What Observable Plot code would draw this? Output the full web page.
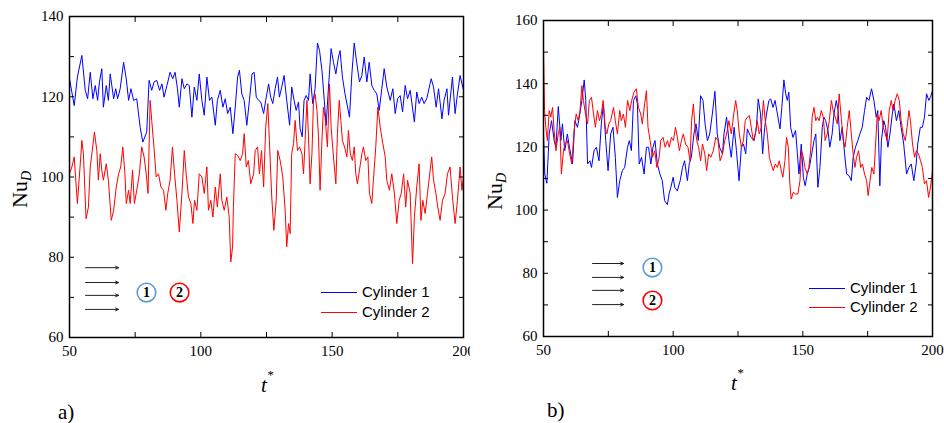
<!DOCTYPE html>
<html><head><meta charset="utf-8">
<script src="https://cdn.jsdelivr.net/npm/d3@7"></script>
<script src="https://cdn.jsdelivr.net/npm/@observablehq/plot@0.6"></script>
<style>
body{margin:0;background:#fff;}
#wrap{position:relative;width:944px;height:423px;overflow:hidden;background:#fff;}
.panel{position:absolute;top:0;}
.panel text{font-family:"Liberation Serif","Times New Roman",serif !important;}
.leg{position:absolute;font-family:"Liberation Sans",Arial,sans-serif;font-size:15px;line-height:18px;height:18px;white-space:nowrap;color:#000;}
.leg span.ln{display:inline-block;width:36px;height:0;border-top:1.2px solid;vertical-align:middle;margin-right:5px;position:relative;top:-1px;}
#over{position:absolute;left:0;top:0;pointer-events:none;}
</style></head>
<body><div id="wrap"></div>
<script>
// ---- data: panel a) (t*, Nu_D) ----
const cyl1A = [[50.0,124.5],[51.8,117.8],[53.0,124.9],[54.7,130.3],[56.0,121.6],[56.9,119.5],[57.9,126.1],[58.9,119.5],[59.8,122.8],[60.7,119.1],[61.4,123.7],[62.3,127.0],[62.9,117.4],[64.0,122.8],[64.8,119.1],[65.5,125.7],[66.8,119.5],[67.6,122.0],[68.3,119.5],[69.3,122.0],[70.6,128.6],[71.6,124.5],[72.5,119.1],[73.4,122.0],[74.4,119.1],[75.6,119.5],[76.9,112.4],[77.9,108.7],[79.4,111.2],[80.3,124.1],[81.3,121.6],[82.2,123.7],[83.2,124.1],[84.3,121.6],[85.2,123.2],[86.0,119.9],[87.1,122.8],[88.3,126.1],[89.3,124.5],[90.2,126.1],[91.1,122.0],[91.8,117.4],[92.8,124.5],[93.7,122.0],[94.7,123.2],[95.6,122.8],[96.6,114.9],[97.5,122.4],[98.5,119.1],[99.4,125.7],[100.4,119.1],[101.3,115.4],[102.3,124.9],[103.3,119.1],[104.2,119.9],[105.5,112.9],[106.3,119.1],[107.4,121.6],[108.4,117.4],[109.3,119.5],[110.2,115.8],[111.2,117.4],[112.2,110.8],[113.1,117.4],[114.0,124.9],[114.7,126.6],[115.6,120.7],[116.5,119.1],[117.5,112.9],[118.5,119.1],[119.5,125.7],[120.3,126.1],[121.1,119.9],[122.0,119.1],[122.8,118.7],[123.9,115.8],[124.7,119.1],[125.8,123.2],[126.6,119.9],[127.4,118.3],[128.3,122.0],[129.2,124.9],[129.9,119.9],[130.8,122.4],[131.7,125.3],[132.7,119.1],[133.8,112.9],[134.6,122.4],[135.5,119.1],[136.3,116.6],[137.2,118.7],[137.8,112.0],[138.6,110.0],[139.3,119.1],[140.1,120.3],[141.0,119.1],[141.6,125.7],[142.6,118.3],[143.5,122.0],[144.4,133.4],[145.2,131.5],[146.1,126.6],[147.0,119.1],[147.7,112.9],[148.6,122.4],[149.6,132.0],[150.5,128.6],[151.4,125.7],[152.4,129.9],[153.0,131.5],[153.9,124.9],[154.9,120.7],[156.6,114.9],[157.5,125.7],[158.4,133.4],[159.4,128.2],[160.4,123.7],[161.3,125.3],[162.2,129.9],[163.2,123.7],[164.1,128.6],[165.1,122.8],[166.0,121.6],[167.0,120.7],[167.9,116.6],[168.9,122.0],[169.8,127.0],[170.8,122.4],[172.1,119.1],[173.1,122.0],[174.0,115.8],[174.9,119.5],[175.9,120.3],[176.8,116.2],[177.8,122.8],[178.7,119.5],[179.7,121.6],[181.3,113.7],[182.2,121.2],[183.1,118.3],[184.1,119.9],[185.0,118.3],[186.0,119.5],[187.7,124.5],[188.6,122.4],[189.6,117.4],[190.5,122.0],[191.8,114.5],[192.6,119.1],[193.7,122.0],[194.3,115.4],[195.8,124.9],[196.8,115.8],[197.7,120.7],[198.7,125.3],[200.0,121.6]];
const cyl2A = [[50.0,100.8],[50.9,102.5],[51.8,105.0],[53.0,93.4],[54.1,103.3],[54.7,109.1],[55.3,105.8],[56.3,89.6],[57.2,92.5],[57.9,102.5],[58.6,106.2],[59.5,111.2],[60.4,106.6],[61.0,99.2],[61.7,105.8],[62.3,101.7],[62.9,99.2],[64.0,103.3],[64.8,99.2],[65.9,89.2],[66.8,91.7],[67.8,97.5],[68.7,100.8],[69.5,102.5],[70.3,107.5],[71.1,100.8],[71.6,93.4],[72.5,96.7],[73.1,93.4],[74.0,101.7],[74.7,93.4],[75.6,96.7],[76.6,100.8],[77.5,107.5],[78.4,105.0],[79.2,100.8],[79.9,95.9],[80.7,119.1],[81.3,114.1],[82.2,107.1],[83.0,100.0],[83.9,100.8],[84.8,97.5],[85.8,96.7],[86.7,91.7],[87.4,95.9],[88.3,99.2],[89.2,107.5],[90.0,100.8],[90.9,94.2],[91.8,86.3],[92.8,95.9],[93.7,106.6],[94.4,100.8],[95.3,95.0],[96.2,93.4],[97.0,88.4],[97.6,94.2],[98.5,91.7],[99.4,100.8],[100.4,100.0],[101.3,95.9],[102.3,102.5],[102.9,91.7],[103.8,94.2],[104.6,90.0],[105.5,97.5],[106.3,92.5],[107.4,100.8],[108.0,94.2],[108.9,91.7],[109.9,95.0],[110.8,90.0],[111.4,78.8],[112.1,82.6],[112.4,92.5],[113.1,105.8],[114.0,105.4],[115.0,104.1],[115.9,105.8],[116.5,110.8],[117.3,102.5],[118.1,104.1],[119.0,98.3],[120.1,100.8],[120.7,106.6],[121.6,107.5],[122.3,100.8],[123.1,106.6],[123.9,97.5],[124.7,112.4],[125.5,118.3],[126.1,109.1],[127.0,95.0],[127.8,86.7],[128.7,94.2],[129.3,106.6],[130.2,104.1],[131.2,100.0],[132.1,91.7],[132.7,82.6],[133.4,88.4],[134.0,85.9],[134.6,105.8],[135.3,108.3],[135.9,114.1],[136.8,106.6],[137.6,107.5],[138.5,105.8],[139.1,100.8],[139.7,109.1],[140.4,119.1],[141.0,110.0],[141.6,98.3],[142.3,105.8],[142.9,119.1],[143.5,120.7],[144.2,116.6],[144.8,110.0],[145.4,96.7],[146.1,109.1],[146.7,117.4],[147.3,114.9],[148.2,107.5],[149.0,123.2],[149.6,112.4],[150.5,105.0],[151.4,98.3],[152.0,110.8],[152.7,119.1],[153.3,114.1],[153.9,109.1],[154.7,107.5],[155.6,105.0],[156.2,111.6],[156.9,105.8],[157.7,104.1],[158.4,107.5],[159.0,100.8],[159.6,98.3],[160.4,101.7],[161.3,105.8],[161.9,107.5],[162.8,104.1],[163.6,105.0],[164.2,95.9],[165.1,93.4],[165.7,99.2],[166.6,107.5],[167.4,117.4],[168.3,112.4],[169.3,108.3],[170.2,105.0],[170.8,99.2],[171.8,96.7],[172.7,100.8],[173.7,95.9],[174.6,88.4],[175.5,94.2],[176.3,95.9],[177.2,100.8],[178.0,92.5],[178.7,99.2],[179.7,95.9],[180.6,78.4],[181.3,90.0],[182.2,97.5],[183.1,103.3],[183.8,89.2],[184.5,94.2],[185.4,90.9],[186.3,95.9],[187.3,101.7],[187.9,105.0],[188.6,99.2],[189.5,95.9],[190.2,92.5],[191.1,89.2],[192.0,94.2],[193.0,95.9],[193.9,100.8],[194.9,102.5],[195.8,95.0],[196.8,88.4],[197.7,94.2],[198.7,102.5],[199.4,96.7],[200.0,100.0]];
// ---- data: panel b) (t*, Nu_D) ----
const cyl1B = [[50.0,124.1],[50.5,111.4],[51.3,108.5],[52.2,124.1],[53.1,128.3],[54.1,122.0],[54.8,119.9],[55.7,132.8],[56.7,122.0],[57.3,127.3],[58.2,118.8],[59.2,124.1],[60.0,119.9],[61.2,114.6],[62.1,128.3],[63.1,126.2],[64.0,130.4],[64.8,134.7],[65.7,141.2],[66.3,134.7],[67.0,114.6],[67.9,115.6],[68.5,113.5],[69.5,118.8],[70.4,119.9],[71.4,115.6],[72.3,127.3],[73.1,133.6],[74.0,122.0],[74.9,112.5],[75.9,124.1],[76.8,126.2],[77.7,116.7],[78.5,104.0],[79.4,109.3],[80.4,112.5],[81.3,113.5],[82.4,119.9],[83.1,122.0],[83.9,118.8],[84.7,134.7],[85.6,136.2],[86.2,133.6],[86.9,114.6],[87.8,116.7],[88.8,111.4],[89.7,119.9],[90.5,119.9],[91.4,114.6],[92.2,119.9],[93.0,122.0],[93.9,114.6],[94.9,111.4],[95.8,109.3],[96.7,103.0],[97.8,101.7],[98.4,105.1],[99.1,107.2],[100.0,110.4],[100.6,107.2],[101.6,106.1],[102.7,109.3],[103.6,113.5],[104.4,115.6],[105.5,109.3],[106.2,114.6],[107.0,116.7],[108.0,124.1],[108.8,127.3],[109.7,122.0],[110.6,136.2],[111.5,134.7],[112.3,127.3],[113.2,122.0],[114.1,124.1],[115.1,130.4],[116.1,137.6],[117.0,124.1],[117.9,119.9],[119.0,117.8],[119.6,124.1],[120.6,129.4],[121.5,122.0],[122.4,116.7],[123.5,126.2],[124.4,118.8],[125.4,109.3],[126.3,119.9],[127.1,120.9],[128.0,117.8],[128.6,125.7],[129.4,124.1],[130.1,123.0],[131.2,122.0],[132.1,126.2],[132.8,135.2],[133.7,130.4],[134.5,117.8],[135.3,126.2],[136.0,130.4],[136.9,134.7],[137.6,135.2],[138.5,132.5],[139.3,134.7],[140.2,130.4],[141.2,125.7],[141.9,132.5],[142.7,141.2],[143.4,136.8],[144.0,134.7],[144.6,137.3],[145.3,126.2],[146.2,123.0],[147.2,125.2],[147.9,117.8],[148.5,111.4],[149.4,120.9],[150.2,110.4],[150.9,107.7],[151.7,111.4],[152.5,113.5],[153.2,116.7],[154.3,122.0],[155.0,124.1],[155.8,107.2],[156.6,113.5],[157.5,126.2],[158.1,129.4],[158.8,128.3],[159.7,125.2],[160.4,119.9],[161.3,124.1],[162.0,130.4],[162.9,134.7],[163.6,131.5],[164.3,122.0],[165.2,126.2],[166.1,117.8],[166.9,111.4],[167.8,110.9],[168.7,109.3],[169.4,116.7],[170.3,119.9],[171.2,122.0],[172.0,124.1],[172.9,126.2],[173.8,131.5],[174.6,135.7],[175.5,134.7],[176.5,138.4],[177.4,134.7],[178.3,129.4],[178.9,131.5],[179.7,107.7],[180.3,122.0],[181.2,128.3],[181.9,126.2],[182.8,119.9],[183.6,124.1],[184.5,130.4],[185.1,133.6],[186.1,128.3],[187.0,131.5],[187.9,126.2],[188.9,120.9],[190.0,111.4],[190.9,113.5],[191.8,114.6],[192.8,109.3],[193.7,114.6],[194.3,120.9],[195.3,126.2],[196.1,126.2],[196.9,129.4],[197.7,136.8],[198.6,134.7],[199.2,135.7],[200.0,137.8]];
const cyl2B = [[50.0,150.5],[50.4,131.5],[50.9,126.2],[51.5,122.0],[52.2,131.5],[52.8,129.4],[53.5,132.5],[54.1,125.2],[54.8,118.8],[55.7,124.1],[56.3,126.2],[56.9,111.4],[57.7,118.8],[58.3,120.9],[59.2,122.0],[60.1,117.8],[60.9,114.6],[61.8,125.2],[62.6,130.4],[63.4,128.3],[64.1,131.5],[64.8,139.4],[65.4,134.7],[66.2,130.4],[67.0,127.3],[67.7,134.7],[68.5,135.7],[69.3,130.4],[70.0,126.2],[70.8,131.5],[71.6,128.3],[72.3,130.4],[73.0,134.7],[73.8,126.2],[74.4,124.1],[75.2,127.3],[75.9,128.3],[77.0,132.5],[77.7,128.3],[78.5,124.1],[79.4,131.5],[80.0,128.3],[80.8,130.4],[81.6,126.2],[82.4,134.7],[83.3,131.5],[84.0,134.7],[84.9,137.3],[85.8,138.4],[86.6,132.5],[87.5,130.4],[88.1,127.3],[89.0,133.6],[89.7,137.8],[90.3,126.2],[91.1,122.0],[92.0,116.7],[92.9,118.8],[93.7,113.5],[94.6,116.7],[95.2,122.0],[96.1,123.0],[96.9,119.9],[97.8,122.0],[98.5,119.9],[99.3,123.0],[100.1,122.0],[100.9,126.2],[101.6,123.0],[102.4,118.8],[103.2,122.0],[103.9,124.1],[104.8,120.9],[105.7,119.9],[106.5,115.6],[107.1,128.3],[107.8,133.6],[108.4,126.2],[109.1,122.0],[109.8,119.9],[110.6,115.6],[111.3,120.9],[112.2,117.8],[112.9,112.5],[113.7,117.8],[114.5,116.7],[115.5,118.8],[116.4,123.0],[117.3,122.0],[118.1,115.6],[119.0,117.8],[119.9,122.0],[120.6,124.1],[121.5,128.3],[122.4,124.1],[123.2,129.4],[124.1,134.7],[124.7,131.5],[125.5,124.1],[126.3,119.9],[127.1,122.0],[127.8,128.3],[128.6,129.4],[129.4,129.9],[130.1,126.2],[130.9,122.0],[131.7,124.1],[132.4,128.3],[133.2,124.1],[134.0,126.2],[134.8,134.7],[135.5,128.3],[136.3,124.1],[137.1,116.7],[137.8,114.6],[138.6,112.5],[139.4,114.6],[140.2,113.5],[140.9,115.6],[141.7,112.5],[142.3,110.4],[143.1,115.6],[143.7,123.0],[144.4,119.9],[145.0,108.3],[145.5,103.5],[146.3,105.6],[147.2,105.1],[148.1,105.1],[148.9,109.3],[149.5,118.8],[150.2,116.7],[150.8,113.5],[151.7,111.4],[152.3,113.5],[153.0,118.8],[153.6,129.4],[154.3,132.5],[155.0,128.3],[155.6,129.4],[156.3,128.3],[157.1,131.5],[157.9,129.4],[158.6,122.0],[159.4,124.1],[160.2,128.3],[161.0,134.7],[161.7,131.5],[162.5,129.4],[163.3,127.3],[164.0,136.8],[164.8,129.4],[165.6,122.0],[166.3,119.9],[167.1,126.2],[167.9,131.5],[168.7,124.1],[169.4,117.8],[170.1,113.5],[170.7,116.7],[171.5,118.8],[172.3,113.5],[173.0,114.6],[173.8,111.4],[174.6,109.3],[175.2,104.6],[175.9,109.3],[176.6,113.5],[177.4,111.4],[178.0,119.9],[178.7,130.4],[179.4,128.3],[180.2,131.5],[181.0,126.2],[181.8,124.1],[182.5,122.0],[183.3,131.5],[184.1,134.7],[184.8,131.5],[185.6,134.7],[186.4,136.8],[187.2,134.7],[187.9,128.3],[188.7,124.1],[189.5,122.0],[190.2,126.2],[190.9,131.5],[191.5,128.3],[192.3,120.9],[193.1,116.7],[193.8,118.8],[194.6,117.8],[195.4,115.6],[196.1,113.5],[196.9,108.3],[197.7,109.3],[198.5,104.0],[199.2,107.2],[200.0,112.5]];

// ---- axes ----
const xTicks = [50, 75, 100, 125, 150, 175, 200];
const xLabels = [50, 100, 150, 200];
const yTicksA = [60, 70, 80, 90, 100, 110, 120, 130, 140];
const yLabelsA = [60, 80, 100, 120, 140];
const yTicksB = [60, 70, 80, 90, 100, 110, 120, 130, 140, 150, 160];
const yLabelsB = [60, 80, 100, 120, 140, 160];
const seriesNames = ["Cylinder 1", "Cylinder 2"];
const seriesColors = ["#0000ff", "#ff0000"];

// ---- schematic (flow arrows and numbered cylinders), in data units ----
const arrowsA = [[56.1, 68.7, 77.4], [56.1, 68.7, 73.7], [56.1, 68.7, 70.5], [56.1, 68.7, 67.0]];
const circlesA = [[79.3, 71.2, "1"], [91.9, 71.2, "2"]];
const arrowsB = [[68.9, 80.9, 83.1], [68.9, 80.9, 78.7], [68.9, 80.9, 74.6], [68.9, 80.9, 70.1]];
const circlesB = [[92.0, 81.8, "1"], [92.0, 71.4, "2"]];
const circleColors = ["#5b9bd5", "#ff0000"];

const toRows = arr => arr.map(([t, v]) => ({t, v}));
const serif = "'Liberation Serif', 'Times New Roman', serif";

function panel(o) {
  const tickStyle = {tickSize: -5, tickFormat: () => "", label: null, strokeWidth: 1};
  return Plot.plot({
    width: o.w, height: o.h,
    marginLeft: o.ml, marginRight: o.mr, marginTop: o.mt, marginBottom: o.mb,
    x: {domain: [50, 200]},
    y: {domain: o.yDomain},
    style: {fontFamily: serif, fontSize: "15px", color: "black", background: "white", overflow: "visible"},
    marks: [
      Plot.line(toRows(o.s1), {x: "t", y: "v", stroke: seriesColors[0], strokeWidth: 1}),
      Plot.line(toRows(o.s2), {x: "t", y: "v", stroke: seriesColors[1], strokeWidth: 1}),
      Plot.axisY(o.yTicks, {anchor: "left", ...tickStyle}),
      Plot.axisY(o.yTicks, {anchor: "right", ...tickStyle}),
      Plot.axisX(xTicks, {anchor: "bottom", ...tickStyle}),
      Plot.axisX(xTicks, {anchor: "top", ...tickStyle}),
      Plot.axisY(o.yLabels, {anchor: "left", tickSize: 0, tickPadding: 6, label: null, fontFamily: serif, fontSize: 15}),
      Plot.axisX(xLabels, {anchor: "bottom", tickSize: 0, tickPadding: 8, label: null, fontFamily: serif, fontSize: 15}),
      Plot.arrow(o.arrows, {x1: d => d[0], x2: d => d[1], y1: d => d[2], y2: d => d[2], stroke: "#222", strokeWidth: 1, headLength: 5, headAngle: 50}),
      Plot.dot(o.circles, {x: d => d[0], y: d => d[1], r: 9.3, stroke: (d, i) => circleColors[i], strokeWidth: 1.6, fill: "white"}),
      Plot.text(o.circles, {x: d => d[0], y: d => d[1], text: d => d[2], fontWeight: "bold", fontSize: 14, fill: "black", fontFamily: serif}),
      Plot.frame({stroke: "black", strokeWidth: 1.5})
    ]
  });
}

const wrap = document.getElementById("wrap");
const pa = panel({w: 470, h: 400, ml: 69, mr: 7, mt: 16, mb: 63, yDomain: [60, 140], yTicks: yTicksA, yLabels: yLabelsA, s1: cyl1A, s2: cyl2A, arrows: arrowsA, circles: circlesA});
pa.classList.add("panel"); pa.style.left = "0px";
wrap.appendChild(pa);
const pb = panel({w: 474, h: 400, ml: 73, mr: 12, mt: 20, mb: 64, yDomain: [60, 160], yTicks: yTicksB, yLabels: yLabelsB, s1: cyl1B, s2: cyl2B, arrows: arrowsB, circles: circlesB});
pb.classList.add("panel"); pb.style.left = "470px";
wrap.appendChild(pb);

// legends
function legend(left, tops) {
  seriesNames.forEach((name, i) => {
    const d = document.createElement("div");
    d.className = "leg";
    d.style.left = left + "px";
    d.style.top = (tops[i] - 9) + "px";
    d.innerHTML = `<span class="ln" style="border-color:${seriesColors[i]}"></span>${name}`;
    wrap.appendChild(d);
  });
}
legend(321, [292, 312]);
legend(809, [288, 307]);

// axis titles and panel tags
const ns = "http://www.w3.org/2000/svg";
const over = document.createElementNS(ns, "svg");
over.setAttribute("id", "over");
over.setAttribute("width", 944); over.setAttribute("height", 423);
over.innerHTML = `
<g font-family="'Liberation Serif','Times New Roman',serif" fill="black">
  <text transform="translate(27,208) rotate(-90)" font-size="22">Nu<tspan font-size="14" font-style="italic" dy="4">D</tspan></text>
  <text transform="translate(502,210) rotate(-90)" font-size="22">Nu<tspan font-size="14" font-style="italic" dy="4">D</tspan></text>
  <text x="261" y="392" font-size="21" font-style="italic">t<tspan font-size="13" dy="-13">*</tspan></text>
  <text x="731" y="390" font-size="21" font-style="italic">t<tspan font-size="13" dy="-13">*</tspan></text>
  <text x="58" y="419" font-size="21">a)</text>
  <text x="547" y="417" font-size="21">b)</text>
</g>`;
wrap.appendChild(over);
</script>
</body></html>
